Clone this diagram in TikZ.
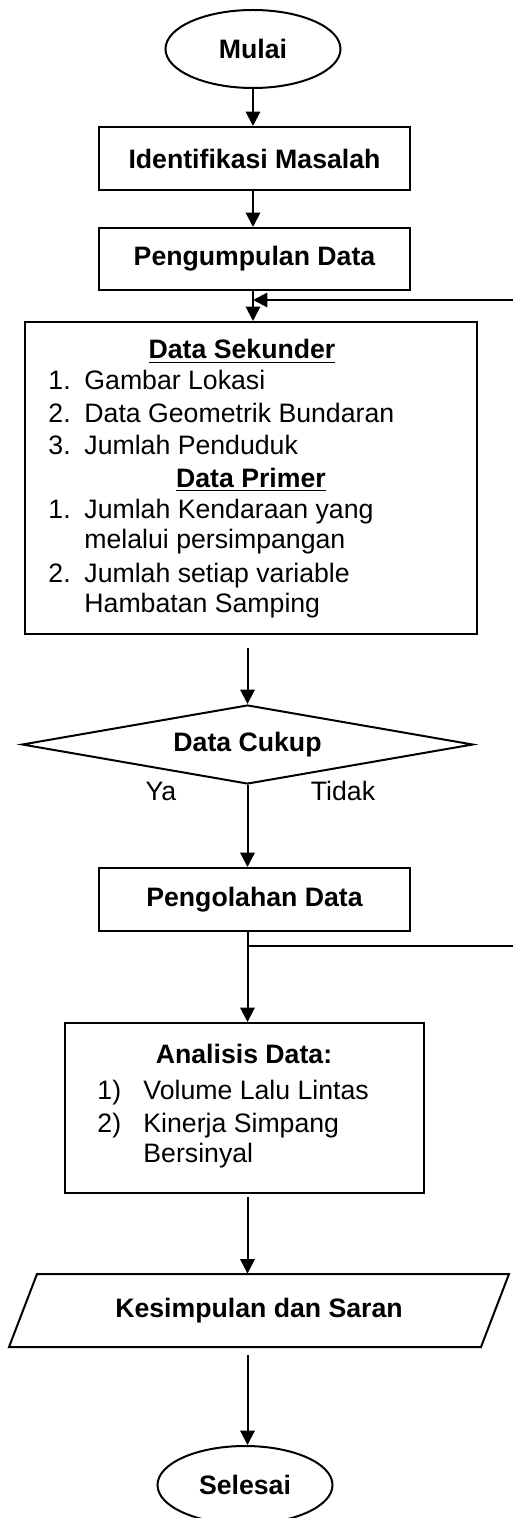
\documentclass[tikz,border=0pt]{standalone}
\usepackage{fontspec}
\setmainfont{Liberation Sans}
\usetikzlibrary{arrows.meta,shapes.geometric}
\newlength{\unitpx}
\setlength{\unitpx}{0.45pt}
\tikzset{
  flowbox/.style={draw,line width=0.9pt,inner sep=0pt,font=\bfseries},
  flowline/.style={line width=0.9pt},
  flowarrow/.style={line width=0.9pt,-{Triangle[width=6.5pt,length=6.5pt]}},
  headtext/.style={anchor=base,inner sep=0pt,font=\bfseries},
  itemtext/.style={anchor=base west,inner sep=0pt}
}
\begin{document}
\begin{tikzpicture}[x=\unitpx,y=-\unitpx]
  \fontsize{12}{14}\selectfont
  \useasboundingbox (0,0) rectangle (513,1518);
  \node [flowbox,ellipse,minimum width=175\unitpx,minimum height=78\unitpx] (mulai) at (253,49) {Mulai};
  \node [flowbox,minimum width=311\unitpx,minimum height=63\unitpx] (ident) at (254.5,158.5) {Identifikasi Masalah};
  \node [flowbox,minimum width=311\unitpx,minimum height=62\unitpx] (kumpul) at (254.5,259) {Pengumpulan Data};
  \node [flowbox,minimum width=452\unitpx,minimum height=312\unitpx] (data) at (251,478) {};
  \node [headtext] (sekunder) at (242,359) {\underline{Data Sekunder}};
  \node [itemtext] (s1) at (48,390) {1.};
  \node [itemtext] (s1t) at (84,390) {Gambar Lokasi};
  \node [itemtext] (s2) at (48,422) {2.};
  \node [itemtext] (s2t) at (84,422) {Data Geometrik Bundaran};
  \node [itemtext] (s3) at (48,454) {3.};
  \node [itemtext] (s3t) at (84,454) {Jumlah Penduduk};
  \node [headtext] (primer) at (251,487) {\underline{Data Primer}};
  \node [itemtext] (p1) at (48,518) {1.};
  \node [itemtext] (p1t) at (84,518) {Jumlah Kendaraan yang};
  \node [itemtext] (p1u) at (84,548) {melalui persimpangan};
  \node [itemtext] (p2) at (48,582) {2.};
  \node [itemtext] (p2t) at (84,582) {Jumlah setiap variable};
  \node [itemtext] (p2u) at (84,612) {Hambatan Samping};
  \node [flowbox,diamond,aspect=5.7,minimum width=451\unitpx,minimum height=79\unitpx] (cukup) at (247.5,744.5) {Data Cukup};
  \node (ya) at (161,791) {Ya};
  \node (tidak) at (343,791) {Tidak};
  \node [flowbox,minimum width=311\unitpx,minimum height=63\unitpx] (olah) at (254.5,899.5) {Pengolahan Data};
  \node [flowbox,minimum width=359\unitpx,minimum height=170\unitpx] (analisis) at (244.5,1108) {};
  \node [headtext] (analisishead) at (244,1063) {Analisis Data:};
  \node [itemtext] (a1) at (97,1099) {1)};
  \node [itemtext] (a1t) at (143,1099) {Volume Lalu Lintas};
  \node [itemtext] (a2) at (97,1132) {2)};
  \node [itemtext] (a2t) at (143,1132) {Kinerja Simpang};
  \node [itemtext] (a2u) at (143,1162) {Bersinyal};
  \draw [line width=0.9pt] (9,1347) -- (37,1274) -- (509,1274) -- (481,1347) -- cycle;
  \node [font=\bfseries,inner sep=0pt,minimum width=440\unitpx,minimum height=73\unitpx] (simpul) at (259,1310.5) {Kesimpulan dan Saran};
  \node [flowbox,ellipse,minimum width=175\unitpx,minimum height=78\unitpx] (selesai) at (245,1485) {Selesai};
  \coordinate (balik) at (513,300);
  \coordinate (cabang) at (513,946);
  \draw [flowarrow] (mulai.south) -- (mulai.south |- ident.north);
  \draw [flowarrow] (mulai.south |- ident.south) -- (mulai.south |- kumpul.north);
  \draw [flowarrow] (mulai.south |- kumpul.south) -- (mulai.south |- data.north);
  \draw [flowarrow] (balik) -- (mulai.south |- balik);
  \draw [flowarrow,shorten <=13\unitpx] (cukup.north |- data.south) -- (cukup.north);
  \draw [flowarrow] (cukup.south) -- (cukup.south |- olah.north);
  \draw [flowarrow] (cukup.south |- olah.south) -- (cukup.south |- analisis.north);
  \draw [flowline] (cukup.south |- cabang) -- (cabang);
  \draw [flowarrow,shorten <=3\unitpx] (cukup.south |- analisis.south) -- (cukup.south |- simpul.north);
  \draw [flowarrow,shorten <=8\unitpx] (cukup.south |- simpul.south) -- (cukup.south |- selesai.north);
\end{tikzpicture}
\end{document}
